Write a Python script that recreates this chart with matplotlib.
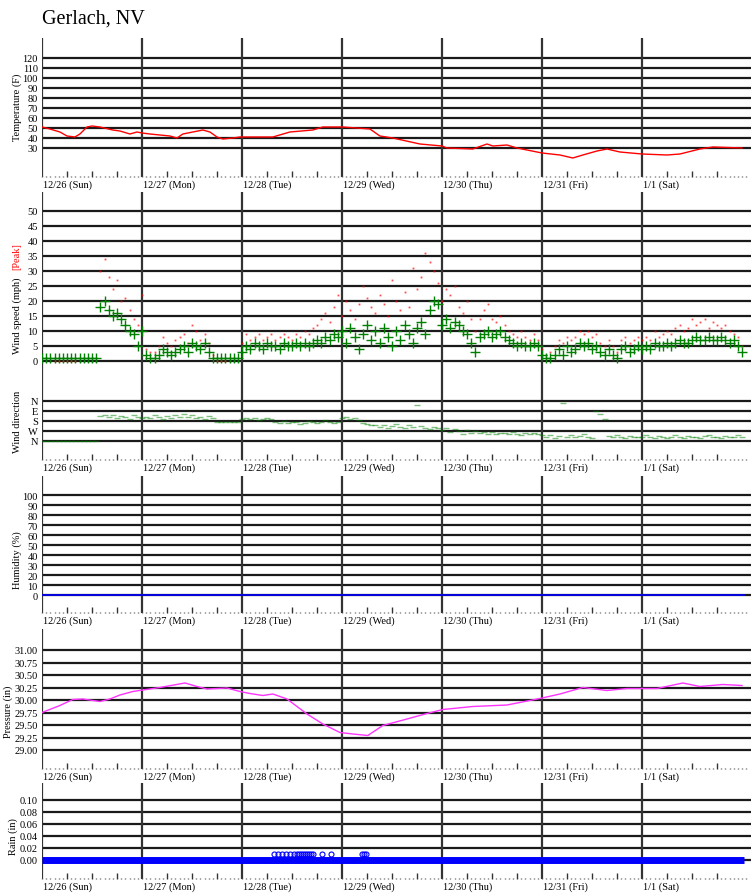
import matplotlib
matplotlib.use("Agg")
import matplotlib.pyplot as plt
from matplotlib.ticker import FixedLocator, NullFormatter

plt.rcParams['font.family'] = ['Liberation Serif', 'DejaVu Serif']

# ---- data (hours since 12/26 00:00) ----
day_labels = ['12/26 (Sun)', '12/27 (Mon)', '12/28 (Tue)', '12/29 (Wed)',
              '12/30 (Thu)', '12/31 (Fri)', '1/1 (Sat)']

temp_hours = [0, 1.9, 4.3, 6.0, 7.9, 9.1, 10.8, 12.0, 13.9, 17.0, 18.7, 21.1, 22.8, 24.0,
              25.9, 28.3, 30.7, 32.4, 33.8, 36.2, 38.6, 40.3, 42.0, 43.4, 45.8, 47.5,
              55.4, 59.5, 65.0, 67.4, 72.2, 78.7, 81.1, 84.2, 90.7, 96.0, 97.2, 103.4,
              106.8, 108.2, 111.6, 114.0, 120.0, 124.3, 127.4, 129.8, 133.2, 135.6,
              138.7, 144.0, 150.0, 153.1, 157.9, 161.0, 168.0]
temp_f = [51, 49, 46, 42, 41, 44, 51, 52, 51, 48, 47, 44, 46, 45,
          44, 43, 42, 40, 44, 46, 48, 46, 41, 39, 40, 41,
          41, 46, 48, 51, 51, 49, 42, 40, 34, 32, 30, 29,
          34, 32, 33, 30, 25, 23, 20, 23, 27, 29,
          26, 24, 23, 24, 29, 31, 30]

# hourly wind, hours 0..168
wind_mph = [1] * 14 + [18, 20, 17, 15, 16, 14, 12, 10, 9, 5, 10,
            2, 1, 1, 2, 4, 3, 2, 3, 4, 5, 3, 6, 5, 4, 6, 3, 1] + [1] * 6 + \
           [3, 5, 4, 6, 5, 4, 6, 5, 5, 4, 6, 5, 5, 6, 5, 6, 5, 6, 7, 6, 8, 7, 9, 8,
            10, 6, 11, 8, 4, 9, 12, 7, 10, 6, 11, 8, 5, 10, 7, 12, 9, 6, 11, 13, 9, 17, 20, 19,
            12, 14, 11, 13, 12, 10, 9, 6, 3, 8, 9, 10, 8, 9, 10, 8, 7, 6, 5, 6, 5, 5, 6, 5,
            2, 1, 1, 2, 4, 2, 5, 3, 4, 6, 5, 6, 4, 5, 3, 2, 4, 2, 1, 4, 5, 3, 4, 5,
            4, 5, 4, 6, 5, 5, 6, 5, 6, 7, 6, 6, 7, 8, 7, 7, 8, 7, 7, 8, 7, 6, 7, 5, 3]
peak_mph = [0] * 14 + [30, 34, 28, 24, 27, 20, 21, 17, 14, 12, 22,
            4, 3, 3, 5, 8, 6, 5, 7, 8, 9, 6, 12, 10, 7, 9, 6, 2] + [0] * 6 + \
           [6, 9, 7, 8, 9, 7, 8, 9, 7, 8, 9, 8, 7, 9, 8, 10, 9, 11, 12, 14, 16, 13, 18, 22,
            15, 20, 17, 14, 19, 25, 21, 18, 16, 22, 19, 15, 27, 20, 17, 23, 18, 31, 24, 28, 36, 33, 30, 26,
            20, 24, 22, 25, 18, 16, 20, 14, 10, 14, 17, 19, 14, 13, 15, 12, 10, 9, 8, 10, 8, 7, 9, 7,
            4, 2, 3, 5, 7, 6, 8, 7, 8, 10, 9, 10, 8, 9, 6, 5, 7, 5, 3, 7, 8, 6, 7, 8,
            7, 8, 7, 10, 8, 9, 10, 9, 11, 12, 10, 11, 14, 12, 13, 14, 11, 13, 12, 11, 12, 10, 9, 8, 5]

# hourly wind direction in degrees, hours 0..168
wind_dir = [360] * 14 + \
    [135, 130, 140, 125, 150, 135, 140, 160, 130, 145, 150] + \
    [140, 155, 130, 145, 160, 135, 150, 125, 140, 120, 145, 130, 150, 140, 165, 135, 150] + \
    [185] * 6 + \
    [160, 155, 165, 150, 170, 160, 155, 165] + \
    [185, 195, 180, 200, 190, 185, 205, 195, 180, 190, 200, 185, 175, 190, 195, 185] + \
    [150, 140, 165, 155, 175, 200, 210, 220] + \
    [220, 230, 215, 240, 225, 210, 235, 245, 220, 230, 40, 225, 240, 250, 230, 245] + \
    [260, 240, 280, 255, 270, 300, 265, 285, 270, 290, 275, 295, 280, 300, 285, 290,
     300, 280, 295, 305, 290, 300, 285, 295] + \
    [310, 320, 305, 330, 315, 20, 320, 310, 325, 315, 300, 320, 330, 90, 120, 160,
     315, 325, 310, 320, 330, 315, 325, 320] + \
    [320, 310, 325, 330, 315, 320, 335, 325, 310, 320, 330, 315, 325, 320, 330, 315,
     310, 325, 320, 330, 315, 325, 320, 310, 320]
wind_hours = list(range(len(wind_mph)))

humidity_hours = [0, 168.5]
humidity_pct = [0, 0]

press_hours = [0, 4.3, 7.4, 9.8, 13.9, 16.3, 18.7, 21.8, 24.2, 28.3, 34.3, 37.2, 39.6,
               44.4, 47.5, 49.9, 53.0, 55.4, 58.8, 63.6, 67.4, 71.5, 74.6, 78.2, 81.8,
               87.6, 92.4, 96.2, 103.4, 111.6, 119.5, 124.3, 129.8, 135.6, 140.4,
               147.6, 153.8, 157.9, 163.4, 168.0]
press_in = [29.75, 29.89, 30.01, 30.02, 29.97, 30.02, 30.10, 30.17, 30.20, 30.25, 30.34,
            30.27, 30.22, 30.24, 30.17, 30.13, 30.09, 30.12, 30.02, 29.72, 29.52, 29.35,
            29.32, 29.29, 29.49, 29.62, 29.73, 29.81, 29.87, 29.90, 30.03, 30.12, 30.25,
            30.19, 30.23, 30.23, 30.34, 30.27, 30.31, 30.29]

rain_hours = [0, 168.5]
rain_in = [0, 0]
rain_hit_hours = [55.7, 56.6, 57.6, 58.6, 59.5, 60.5, 61.2, 61.7, 62.2, 62.6, 63.1, 63.6,
                  64.1, 64.6, 65.0, 67.2, 69.4, 76.8, 77.3, 77.8]
rain_hit_in = [0.01] * len(rain_hit_hours)

# ---- layout in pixels ----
W, H = 751, 895
fig = plt.figure(figsize=(W / 100, H / 100), dpi=100)
X0 = 42
XMAX = (W - X0) * 0.24
FS = 7.5


def panel(top, bottom, ylim, yticks, ylabels, baseline=True):
    ax = fig.add_axes([X0 / W, 1 - bottom / H, (W - X0) / W, (bottom - top) / H])
    ax.set_xlim(0, XMAX)
    ax.set_ylim(*ylim)
    for s in ax.spines.values():
        s.set_visible(False)
    for v in yticks:
        ax.axhline(v, color='#1a1a1a', lw=1.6, zorder=1)
    for d in range(7):
        ax.axvline(d * 24, color='#333333', lw=1.6, zorder=1)
    ax.set_yticks(yticks)
    ax.set_yticklabels(ylabels)
    ax.tick_params(axis='y', length=0, pad=3, labelsize=FS)
    if baseline:
        ax.xaxis.set_major_locator(FixedLocator([h for h in range(6, 169, 6) if h % 24]))
        ax.xaxis.set_minor_locator(FixedLocator(list(range(0, 170))))
        ax.xaxis.set_major_formatter(NullFormatter())
        ax.tick_params(axis='x', which='major', direction='in', length=4.3, width=1,
                       color='#333333')
        ax.tick_params(axis='x', which='minor', direction='in', length=0.8, width=1,
                       color='#555555')
        for d, lab in enumerate(day_labels):
            ax.annotate(lab, xy=(d * 24, 0), xycoords=('data', 'axes fraction'),
                        xytext=(0.5, -2), textcoords='offset points',
                        ha='left', va='top', fontsize=FS)
    else:
        ax.set_xticks([])
    return ax


fig.text(X0 / W, 1 - 19 / H, 'Gerlach, NV', fontsize=14.5, ha='left', va='center')

# temperature
ax = panel(39, 178, (1, 140), list(range(30, 121, 10)), [str(v) for v in range(30, 121, 10)])
ax.plot(temp_hours, temp_f, color='red', lw=1, zorder=3)
fig.text(17 / W, 1 - 107 / H, 'Temperature (F)', rotation=90, ha='center', va='center',
         fontsize=FS)

# wind speed
ax = panel(193, 388, (-8.67, 56.33), list(range(0, 51, 5)), [str(v) for v in range(0, 51, 5)],
           baseline=False)
ax.plot(wind_hours, peak_mph, ls='none', marker='s', ms=1.3, mew=0, color='red',
        alpha=0.7, zorder=3)
ax.plot(wind_hours, wind_mph, ls='none', marker='+', ms=6.5, mew=1, color='green', zorder=4)
fig.text(17 / W, 1 - 316 / H, 'Wind speed (mph)', rotation=90, ha='center', va='center',
         fontsize=FS)
fig.text(17 / W, 1 - 257 / H, '[Peak]', rotation=90, ha='center', va='center',
         fontsize=FS, color='red')

# wind direction
ax = panel(388, 461, (531, -126), [0, 90, 180, 270, 360], ['N', 'E', 'S', 'W', 'N'])
ax.plot(wind_hours, wind_dir, ls='none', marker='_', ms=4, mew=1, color='green',
        alpha=0.5, zorder=3)
fig.text(17 / W, 1 - 422 / H, 'Wind direction', rotation=90, ha='center', va='center',
         fontsize=FS)

# humidity
ax = panel(477, 614, (-18, 119), list(range(0, 101, 10)), [str(v) for v in range(0, 101, 10)])
ax.plot(humidity_hours, humidity_pct, color='blue', lw=1.2, zorder=3)
fig.text(17 / W, 1 - 560 / H, 'Humidity (%)', rotation=90, ha='center', va='center',
         fontsize=FS)

# pressure
pt = [29.0 + 0.25 * i for i in range(9)]
ax = panel(630, 770, (28.62, 31.42), pt, ['%.2f' % v for v in pt])
ax.plot(press_hours, press_in, color='#ff33ff', lw=1, zorder=3)
fig.text(8 / W, 1 - 712 / H, 'Pressure (in)', rotation=90, ha='center', va='center',
         fontsize=FS)

# rain
rt = [0.02 * i for i in range(6)]
ax = panel(784, 880, (-0.0317, 0.1283), rt, ['%.2f' % v for v in rt])
ax.plot(rain_hours, rain_in, color='blue', lw=5, solid_capstyle='butt', zorder=3)
ax.plot(rain_hit_hours, rain_hit_in, ls='none', marker='o', ms=3.6, mfc='none', mec='blue',
        mew=0.8, zorder=3)
fig.text(13 / W, 1 - 837 / H, 'Rain (in)', rotation=90, ha='center', va='center',
         fontsize=FS)

fig.savefig('out.png', dpi=100)
